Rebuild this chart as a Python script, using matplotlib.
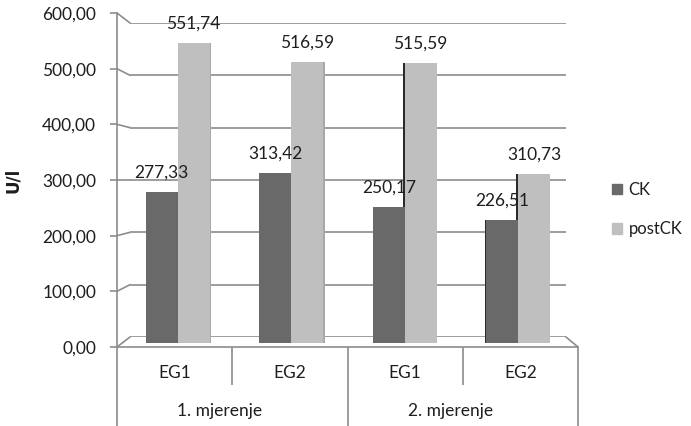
import matplotlib.pyplot as plt
from matplotlib.patches import ConnectionPatch, Patch
import numpy as np

# data
groups = ["1. mjerenje", "2. mjerenje"]
subgroups = ["EG1", "EG2", "EG1", "EG2"]
series_names = ["CK", "postCK"]
ck_values = [277.33, 313.42, 250.17, 226.51]
postck_values = [551.74, 516.59, 515.59, 310.73]
y_ticks = [0, 100, 200, 300, 400, 500, 600]

plt.rcParams['font.family'] = ['Lato', 'DejaVu Sans']

dark = "#696969"
light = "#bfbfbf"
grid_col = "#8c8c8c"
text_col = "#1e1e1e"
fs = 12.5

W, H = 691, 426
fig = plt.figure(figsize=(W / 100, H / 100), dpi=100)


def box(x0, y0, x1, y1):
    # pixel box (top-left origin) -> figure fraction rect
    return [x0 / W, 1 - y1 / H, (x1 - x0) / W, (y1 - y0) / H]


# back wall (gridlines), front (axes, ticks), middle (bars)
ax_back = fig.add_axes(box(130, 23, 566, 337))
ax_front = fig.add_axes(box(117, 13, 578, 347))
ax_mid = fig.add_axes(box(121, 17, 575, 343))

for a in (ax_back, ax_front, ax_mid):
    a.set_ylim(0, 600)
    a.set_xlim(-0.5, 3.5)
    a.patch.set_visible(False)

ax_back.set_zorder(0)
ax_front.set_zorder(1)
ax_mid.set_zorder(2)

# back wall gridlines
for s in ax_back.spines.values():
    s.set_visible(False)
ax_back.set_xticks([])
ax_back.set_yticks([])
for v in y_ticks:
    ax_back.axhline(v, color=grid_col, linewidth=1.2)

# front axis
for name in ["top", "right"]:
    ax_front.spines[name].set_visible(False)
ax_front.spines["left"].set_color(grid_col)
ax_front.spines["bottom"].set_color(grid_col)
ax_front.spines["left"].set_linewidth(1.2)
ax_front.spines["bottom"].set_linewidth(1.2)
ax_front.set_yticks(y_ticks)
ax_front.set_yticklabels([f"{v:.2f}".replace(".", ",") for v in y_ticks])
ax_front.tick_params(axis="y", length=5, width=1.2, color=grid_col,
                     labelsize=fs, labelcolor=text_col, pad=10)

ax_front.set_xticks([-0.5, 1.5, 3.5])
ax_front.set_xticklabels([])
ax_front.set_xticks([0.5, 2.5], minor=True)
ax_front.tick_params(axis="x", which="major", length=57, width=1.2, color=grid_col)
ax_front.tick_params(axis="x", which="minor", length=27.5, width=1.2, color=grid_col)

ax_front.set_ylabel("U/l", fontsize=12, fontweight="bold", color=text_col,
                    family="DejaVu Sans")
ax_front.yaxis.set_label_coords(-0.205, 0.5)

xt = ax_front.get_xaxis_transform()
for i, lab in enumerate(subgroups):
    ax_front.annotate(lab, xy=(i, 0), xycoords=xt, xytext=(0, -18.5),
                      textcoords="offset points", ha="center", va="center",
                      fontsize=fs, color=text_col)
for g, lab in enumerate(groups):
    ax_front.annotate(lab, xy=(2 * g + 0.5, 0), xycoords=xt, xytext=(-9, -46),
                      textcoords="offset points", ha="center", va="center",
                      fontsize=fs, color=text_col)

# slanted links between front axis and back wall
for v in y_ticks:
    con = ConnectionPatch(xyA=(0, v), coordsA=ax_front.get_yaxis_transform(),
                          xyB=(0, v), coordsB=ax_back.get_yaxis_transform(),
                          color=grid_col, linewidth=1.2)
    fig.add_artist(con)
con = ConnectionPatch(xyA=(1, 0), coordsA=ax_front.get_yaxis_transform(),
                      xyB=(1, 0), coordsB=ax_back.get_yaxis_transform(),
                      color=grid_col, linewidth=1.2)
fig.add_artist(con)

# bars
ax_mid.axis("off")
x = np.arange(len(subgroups))
w = 0.28
side = 0.016
center = 1.9

for i in x:
    # side faces for the 3d look
    if i + w < center:
        ax_mid.bar(i + w + side / 2, postck_values[i], side, color="#a8a8a8", zorder=1)
    if i >= center:
        ax_mid.bar(i - side / 2, postck_values[i], side, color="#2a2a2a", zorder=1)
    if i - w >= center:
        ax_mid.bar(i - w - side / 2, ck_values[i], side, color="#2a2a2a", zorder=1)

ax_mid.bar(x - w / 2, ck_values, w, color=dark, zorder=2)
ax_mid.bar(x + w / 2, postck_values, w, color=light, zorder=2)

for i in x:
    ax_mid.annotate(f"{ck_values[i]:.2f}".replace(".", ","), xy=(i - w / 2, ck_values[i]),
                    xytext=(0, 14), textcoords="offset points", ha="center", va="center",
                    fontsize=fs, color=text_col, zorder=5)
    ax_mid.annotate(f"{postck_values[i]:.2f}".replace(".", ","), xy=(i + w / 2, postck_values[i]),
                    xytext=(0, 14), textcoords="offset points", ha="center", va="center",
                    fontsize=fs, color=text_col, zorder=5)

# legend
handles = [Patch(color=dark), Patch(color=light)]
fig.legend(handles, series_names, loc="upper left", bbox_to_anchor=(612 / W, 1 - 182 / H),
           frameon=False, fontsize=12, handlelength=0.6, handleheight=0.6,
           handletextpad=0.4, labelspacing=1.4, labelcolor=text_col,
           borderpad=0, borderaxespad=0)

fig.savefig("out.png", dpi=100)
